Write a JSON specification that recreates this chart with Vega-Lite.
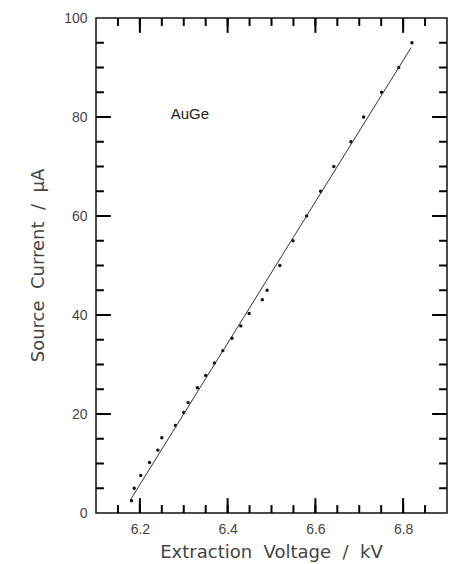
{
  "$schema": "https://vega.github.io/schema/vega-lite/v6.json",
  "width": 351,
  "height": 495,
  "autosize": "none",
  "padding": {"left": 96, "top": 18, "right": 6, "bottom": 51},
  "background": "white",
  "config": {
    "view": {"stroke": "#111", "strokeWidth": 1.5},
    "axis": {
      "domain": false,
      "grid": false,
      "ticks": false,
      "labelFont": "Liberation Sans",
      "labelFontSize": 14,
      "labelColor": "#444",
      "titleFont": "DejaVu Sans",
      "titleFontSize": 18,
      "titleFontWeight": "normal",
      "titleColor": "#444"
    }
  },
  "datasets": {
    "points": [
      {"v": 6.181, "i": 2.5}, {"v": 6.187, "i": 5.0}, {"v": 6.202, "i": 7.6},
      {"v": 6.222, "i": 10.2}, {"v": 6.241, "i": 12.7}, {"v": 6.25, "i": 15.2},
      {"v": 6.281, "i": 17.7}, {"v": 6.3, "i": 20.3}, {"v": 6.31, "i": 22.3},
      {"v": 6.331, "i": 25.3}, {"v": 6.35, "i": 27.8}, {"v": 6.37, "i": 30.3},
      {"v": 6.389, "i": 32.8}, {"v": 6.41, "i": 35.3}, {"v": 6.43, "i": 37.8},
      {"v": 6.449, "i": 40.3}, {"v": 6.479, "i": 43.1}, {"v": 6.49, "i": 45.0},
      {"v": 6.519, "i": 50.0}, {"v": 6.549, "i": 55.0}, {"v": 6.58, "i": 60.0},
      {"v": 6.612, "i": 65.0}, {"v": 6.642, "i": 70.0}, {"v": 6.681, "i": 75.0},
      {"v": 6.71, "i": 80.0}, {"v": 6.751, "i": 85.0}, {"v": 6.79, "i": 90.0},
      {"v": 6.82, "i": 95.0}
    ],
    "fit": [{"v": 6.178, "i": 2.6}, {"v": 6.818, "i": 94.0}],
    "label": [{"v": 6.314, "i": 80.7, "t": "AuGe"}],
    "xticks": [
      {"v": 6.15, "major": false}, {"v": 6.2, "major": true}, {"v": 6.25, "major": false},
      {"v": 6.3, "major": false}, {"v": 6.35, "major": false}, {"v": 6.4, "major": true},
      {"v": 6.45, "major": false}, {"v": 6.5, "major": false}, {"v": 6.55, "major": false},
      {"v": 6.6, "major": true}, {"v": 6.65, "major": false}, {"v": 6.7, "major": false},
      {"v": 6.75, "major": false}, {"v": 6.8, "major": true}, {"v": 6.85, "major": false}
    ],
    "yticks": [
      {"i": 5, "major": false}, {"i": 10, "major": false}, {"i": 15, "major": false},
      {"i": 20, "major": true}, {"i": 25, "major": false}, {"i": 30, "major": false},
      {"i": 35, "major": false}, {"i": 40, "major": true}, {"i": 45, "major": false},
      {"i": 50, "major": false}, {"i": 55, "major": false}, {"i": 60, "major": true},
      {"i": 65, "major": false}, {"i": 70, "major": false}, {"i": 75, "major": false},
      {"i": 80, "major": true}, {"i": 85, "major": false}, {"i": 90, "major": false},
      {"i": 95, "major": false}
    ]
  },
  "layer": [
    {
      "data": {"name": "points"},
      "mark": {"type": "circle", "size": 12, "color": "#111", "opacity": 1},
      "encoding": {
        "x": {
          "field": "v", "type": "quantitative",
          "scale": {"domain": [6.1, 6.9], "nice": false, "zero": false},
          "axis": {
            "orient": "bottom",
            "values": [6.2, 6.4, 6.6, 6.8],
            "format": ".1f",
            "labelPadding": 9,
            "labelOverlap": false,
            "labelFlush": false,
            "title": "Extraction\u00a0\u00a0Voltage\u00a0\u00a0/\u00a0\u00a0kV",
            "titleX": 175,
            "titleY": 39,
            "titleBaseline": "middle",
            "titleAlign": "center"
          }
        },
        "y": {
          "field": "i", "type": "quantitative",
          "scale": {"domain": [0, 100], "nice": false, "zero": false},
          "axis": {
            "orient": "left",
            "values": [0, 20, 40, 60, 80, 100],
            "format": "d",
            "labelPadding": 9,
            "labelOverlap": false,
            "labelFlush": false,
            "title": "Source\u00a0\u00a0Current\u00a0\u00a0/\u00a0\u00a0\u03bcA",
            "titleX": -58,
            "titleY": 247,
            "titleAngle": 270,
            "titleBaseline": "middle",
            "titleAlign": "center"
          }
        }
      }
    },
    {
      "data": {"name": "fit"},
      "mark": {"type": "line", "color": "#333", "strokeWidth": 1},
      "encoding": {
        "x": {"field": "v", "type": "quantitative"},
        "y": {"field": "i", "type": "quantitative"}
      }
    },
    {
      "data": {"name": "label"},
      "mark": {"type": "text", "fontSize": 15, "font": "Liberation Sans", "color": "#222", "align": "center", "baseline": "middle"},
      "encoding": {
        "text": {"field": "t"},
        "x": {"field": "v", "type": "quantitative"},
        "y": {"field": "i", "type": "quantitative"}
      }
    },
    {
      "data": {"name": "xticks"},
      "mark": {"type": "rule", "color": "#000", "strokeWidth": 2},
      "encoding": {
        "x": {"field": "v", "type": "quantitative"},
        "y": {"datum": 0, "type": "quantitative"},
        "y2": {"datum": 1.6}
      }
    },
    {
      "data": {"name": "xticks"},
      "mark": {"type": "rule", "color": "#000", "strokeWidth": 2},
      "encoding": {
        "x": {"field": "v", "type": "quantitative"},
        "y": {"datum": 100, "type": "quantitative"},
        "y2": {"datum": 98.4}
      }
    },
    {
      "data": {"name": "xticks"},
      "transform": [{"filter": "datum.major"}],
      "mark": {"type": "rule", "color": "#000", "strokeWidth": 2},
      "encoding": {
        "x": {"field": "v", "type": "quantitative"},
        "y": {"datum": 0, "type": "quantitative"},
        "y2": {"datum": 3.0}
      }
    },
    {
      "data": {"name": "xticks"},
      "transform": [{"filter": "datum.major"}],
      "mark": {"type": "rule", "color": "#000", "strokeWidth": 2},
      "encoding": {
        "x": {"field": "v", "type": "quantitative"},
        "y": {"datum": 100, "type": "quantitative"},
        "y2": {"datum": 97.0}
      }
    },
    {
      "data": {"name": "yticks"},
      "mark": {"type": "rule", "color": "#000", "strokeWidth": 2},
      "encoding": {
        "y": {"field": "i", "type": "quantitative"},
        "x": {"datum": 6.1, "type": "quantitative"},
        "x2": {"datum": 6.118}
      }
    },
    {
      "data": {"name": "yticks"},
      "mark": {"type": "rule", "color": "#000", "strokeWidth": 2},
      "encoding": {
        "y": {"field": "i", "type": "quantitative"},
        "x": {"datum": 6.9, "type": "quantitative"},
        "x2": {"datum": 6.882}
      }
    },
    {
      "data": {"name": "yticks"},
      "transform": [{"filter": "datum.major"}],
      "mark": {"type": "rule", "color": "#000", "strokeWidth": 2},
      "encoding": {
        "y": {"field": "i", "type": "quantitative"},
        "x": {"datum": 6.1, "type": "quantitative"},
        "x2": {"datum": 6.134}
      }
    },
    {
      "data": {"name": "yticks"},
      "transform": [{"filter": "datum.major"}],
      "mark": {"type": "rule", "color": "#000", "strokeWidth": 2},
      "encoding": {
        "y": {"field": "i", "type": "quantitative"},
        "x": {"datum": 6.9, "type": "quantitative"},
        "x2": {"datum": 6.866}
      }
    }
  ]
}
